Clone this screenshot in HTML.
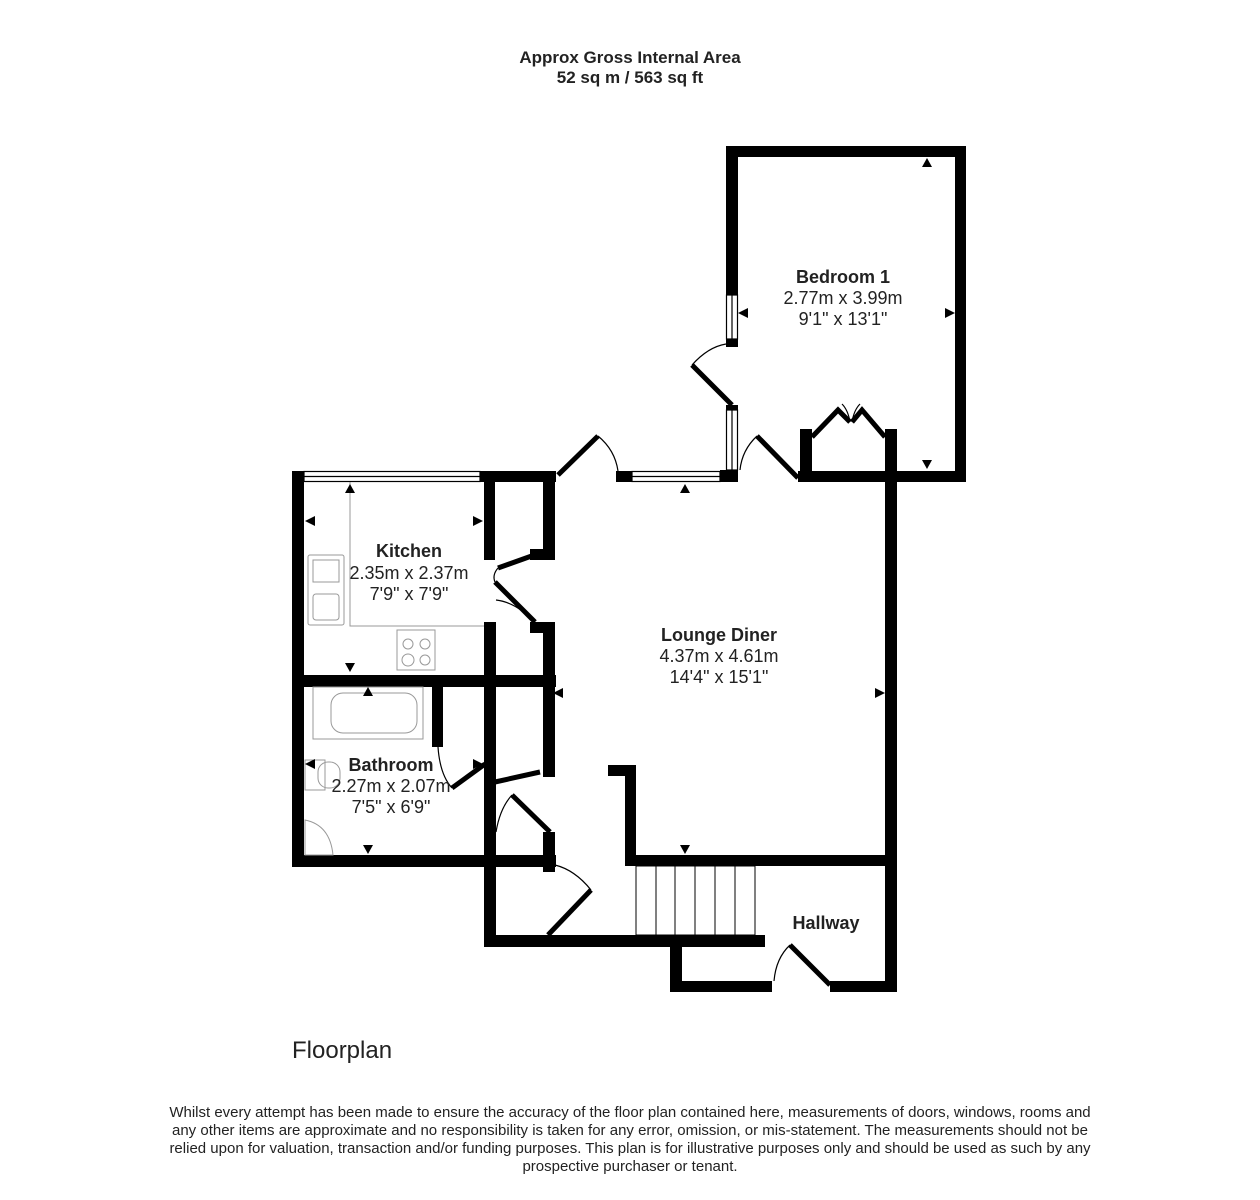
<!DOCTYPE html>
<html><head><style>
body{margin:0;background:#fff;}
svg{display:block}
text{font-family:"Liberation Sans",Arial,sans-serif;fill:#222}
</style></head><body>
<svg width="1260" height="1200" viewBox="0 0 1260 1200" xmlns="http://www.w3.org/2000/svg">
<text x="630" y="63" text-anchor="middle" font-size="17" font-weight="bold">Approx Gross Internal Area</text>
<text x="630" y="83" text-anchor="middle" font-size="17" font-weight="bold">52 sq m / 563 sq ft</text>

<g fill="#000">
<rect x="726" y="146" width="240" height="11"/>
<rect x="955" y="146" width="11" height="336"/>
<rect x="726" y="146" width="12" height="149"/>
<rect x="726" y="339" width="12" height="8"/>
<rect x="726" y="405" width="12" height="5"/>
<rect x="720" y="470" width="18" height="12"/>
<rect x="798" y="471" width="168" height="11"/>
<rect x="800" y="429" width="12" height="53"/>
<rect x="885" y="429" width="12" height="431"/>
<rect x="616" y="471" width="16" height="11"/>
<rect x="292" y="471" width="12" height="396"/>
<rect x="480" y="471" width="76" height="11"/>
<rect x="484" y="482" width="11" height="78"/>
<rect x="543" y="471" width="12" height="89"/>
<rect x="530" y="549" width="25" height="11"/>
<rect x="292" y="675" width="264" height="12"/>
<rect x="484" y="622" width="12" height="238"/>
<rect x="530" y="622" width="25" height="11"/>
<rect x="543" y="622" width="12" height="155"/>
<rect x="432" y="687" width="11" height="60"/>
<rect x="292" y="855" width="264" height="12"/>
<rect x="484" y="835" width="12" height="112"/>
<rect x="543" y="832" width="12" height="40"/>
<rect x="484" y="935" width="281" height="12"/>
<rect x="608" y="765" width="28" height="11"/>
<rect x="625" y="765" width="11" height="101"/>
<rect x="625" y="855" width="272" height="11"/>
<rect x="885" y="860" width="12" height="132"/>
<rect x="670" y="947" width="12" height="45"/>
<rect x="670" y="981" width="102" height="11"/>
<rect x="830" y="981" width="67" height="11"/>
</g>

<g fill="#fff" stroke="#000" stroke-width="1.2">
<rect x="726.5" y="295" width="11" height="44"/>
<line x1="732" y1="295" x2="732" y2="339"/>
<rect x="726.5" y="410" width="11" height="60"/>
<line x1="732" y1="410" x2="732" y2="470"/>
<rect x="632" y="471.5" width="88" height="10"/>
<line x1="632" y1="476.5" x2="720" y2="476.5"/>
<rect x="304" y="471.5" width="176" height="10"/>
<line x1="304" y1="476.5" x2="480" y2="476.5"/>
</g>

<g stroke="#000" fill="none">
<g stroke-width="5">
<line x1="558" y1="475" x2="598" y2="436"/>
<line x1="732" y1="405" x2="692" y2="365"/>
<line x1="798" y1="478" x2="757" y2="436"/>
<polyline points="812,437 838,410 850,422"/>
<polyline points="885,437 862,410 852,422"/>
<line x1="498" y1="568" x2="540" y2="553"/>
<line x1="495" y1="582" x2="535" y2="622"/>
<line x1="485" y1="764" x2="452" y2="788" />
<line x1="495" y1="782" x2="540" y2="772"/>
<line x1="512" y1="795" x2="550" y2="832"/>
<line x1="548" y1="935" x2="591" y2="890"/>
<line x1="790" y1="945" x2="830" y2="985"/>
</g>
<g stroke-width="1.2">
<path d="M598 436 Q615 450 618 471"/>
<path d="M692 365 Q708 347 726 344"/>
<path d="M757 436 Q742 450 740 470"/>
<path d="M850 422 Q848 410 842 404 M852 422 Q854 410 860 404"/>
<path d="M498 568 Q492 575 495 582"/>
<path d="M535 622 Q515 602 496 600"/>
<path d="M452 788 Q440 775 438 747"/>
<path d="M512 795 Q500 808 496 832"/>
<path d="M591 890 Q575 870 555 865"/>
<path d="M790 945 Q776 958 774 981"/>
</g>
</g>

<g stroke="#000" stroke-width="1" fill="none">
<rect x="636" y="866" width="119" height="69"/>
<line x1="656" y1="866" x2="656" y2="935"/><line x1="675" y1="866" x2="675" y2="935"/>
<line x1="695" y1="866" x2="695" y2="935"/><line x1="715" y1="866" x2="715" y2="935"/>
<line x1="735" y1="866" x2="735" y2="935"/>
</g>

<g stroke="#999" stroke-width="1" fill="none">
<polyline points="350,482 350,626 484,626"/>
<rect x="308" y="555" width="36" height="70" rx="2"/>
<rect x="313" y="560" width="26" height="22"/>
<rect x="313" y="594" width="26" height="26" rx="3"/>
<rect x="397" y="630" width="38" height="40"/>
<circle cx="408" cy="644" r="5"/><circle cx="425" cy="644" r="5"/>
<circle cx="408" cy="660" r="6"/><circle cx="425" cy="660" r="5"/>
<rect x="313" y="687" width="110" height="52"/>
<rect x="331" y="693" width="86" height="40" rx="12"/>
<rect x="305" y="760" width="20" height="30"/>
<rect x="318" y="762" width="22" height="26" rx="10"/>
<path d="M305 820 Q330 825 333 855 L305 855 Z"/>
</g>

<g fill="#000">
<polygon points="922,167 932,167 927,158"/>
<polygon points="922,460 932,460 927,469"/>
<polygon points="738,313 748,308 748,318"/>
<polygon points="955,313 945,308 945,318"/>
<polygon points="680,493 690,493 685,484"/>
<polygon points="680,845 690,845 685,854"/>
<polygon points="553,693 563,688 563,698"/>
<polygon points="885,693 875,688 875,698"/>
<polygon points="345,493 355,493 350,484"/>
<polygon points="345,663 355,663 350,672"/>
<polygon points="305,521 315,516 315,526"/>
<polygon points="483,521 473,516 473,526"/>
<polygon points="363,696 373,696 368,687"/>
<polygon points="363,845 373,845 368,854"/>
<polygon points="305,764 315,759 315,769"/>
<polygon points="483,764 473,759 473,769"/>
</g>

<g font-size="18" text-anchor="middle">
<text x="843" y="283" font-weight="bold">Bedroom 1</text>
<text x="843" y="304">2.77m x 3.99m</text>
<text x="843" y="325">9'1" x 13'1"</text>
<text x="409" y="557" font-weight="bold">Kitchen</text>
<text x="409" y="579">2.35m x 2.37m</text>
<text x="409" y="600">7'9" x 7'9"</text>
<text x="719" y="641" font-weight="bold">Lounge Diner</text>
<text x="719" y="662">4.37m x 4.61m</text>
<text x="719" y="683">14'4" x 15'1"</text>
<text x="391" y="771" font-weight="bold">Bathroom</text>
<text x="391" y="792">2.27m x 2.07m</text>
<text x="391" y="813">7'5" x 6'9"</text>
<text x="826" y="929" font-weight="bold">Hallway</text>
</g>

<text x="292" y="1058" font-size="24">Floorplan</text>
<g font-size="15" text-anchor="middle">
<text x="630" y="1117">Whilst every attempt has been made to ensure the accuracy of the floor plan contained here, measurements of doors, windows, rooms and</text>
<text x="630" y="1135">any other items are approximate and no responsibility is taken for any error, omission, or mis-statement. The measurements should not be</text>
<text x="630" y="1153">relied upon for valuation, transaction and/or funding purposes. This plan is for illustrative purposes only and should be used as such by any</text>
<text x="630" y="1171">prospective purchaser or tenant.</text>
</g>
</svg>
</body></html>
